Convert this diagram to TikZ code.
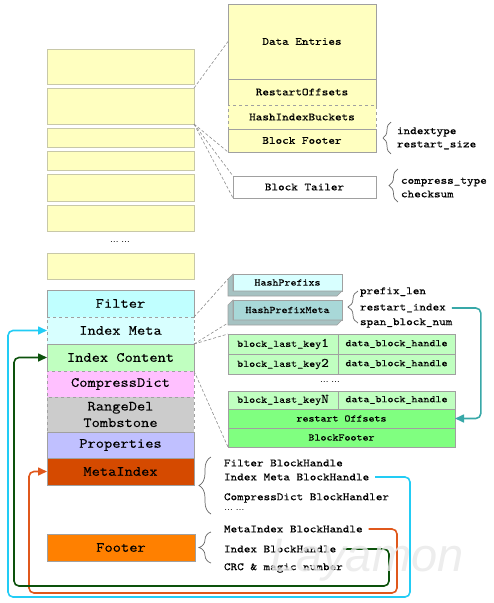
\documentclass[tikz,border=0pt]{standalone}
\usepackage{fontspec}
\setmonofont{Latin Modern Mono}[FakeStretch=1.143,FakeBold=0.35]
\newfontfamily\wmfont{Liberation Sans}
\usetikzlibrary{arrows.meta,decorations.pathreplacing,calc}

\definecolor{yel}{HTML}{FFFFC0}
\definecolor{yedge}{HTML}{C8C8A8}
\definecolor{edge}{HTML}{A0A0A0}
\definecolor{filterc}{HTML}{C0FFFF}
\definecolor{imetac}{HTML}{D8FFFF}
\definecolor{icont}{HTML}{C0FFC0}
\definecolor{cdict}{HTML}{FFC0FF}
\definecolor{rdel}{HTML}{CCCCCC}
\definecolor{props}{HTML}{C0C0FF}
\definecolor{metai}{HTML}{D54A00}
\definecolor{footc}{HTML}{FF8000}
\definecolor{hpfront}{HTML}{D8FFFF}
\definecolor{hpside}{HTML}{A6C2C2}
\definecolor{hpmfront}{HTML}{A8D8D8}
\definecolor{brightg}{HTML}{80FF80}
\definecolor{lcyan}{HTML}{22CCF5}
\definecolor{lorange}{HTML}{E0581C}
\definecolor{lgreen}{HTML}{0C520C}
\definecolor{lteal}{HTML}{38A8A8}

% box placed by its top-left corner: name, style, left, top, width, height, text
\newcommand\blk[7]{\node[#2, minimum width=#5, minimum height=#6, anchor=north west] (#1) at (#3,#4) {#7};}
% larger key index digit
\newcommand\keynum[1]{{\fontsize{13}{13}\selectfont #1}}

\begin{document}
\begin{tikzpicture}[x=1pt,y=-1pt,
  box/.style={draw=edge, line width=0.6pt, inner sep=0pt, outer sep=0pt, align=center,
    font=\ttfamily\fontsize{14}{16.5}\selectfont},
  ybox/.style={box, fill=yel, draw=yedge},
  mid/.style={box, font=\ttfamily\fontsize{11}{13}\selectfont},
  sml/.style={box, font=\ttfamily\fontsize{10}{12}\selectfont},
  note/.style={inner sep=0pt, outer sep=0pt, anchor=west, font=\ttfamily\fontsize{11}{13}\selectfont},
  dots/.style={inner sep=0pt, font=\wmfont\fontsize{9}{11}\selectfont},
  guide/.style={draw=black!45, line width=0.6pt, dash pattern=on 3pt off 2pt},
  brc/.style={draw=black!60, line width=0.7pt, decorate, decoration={brace, amplitude=#1}},
  loop/.style={line width=1.6pt, rounded corners=5pt, -{Triangle[length=9pt,width=8pt]}}
]
\useasboundingbox (0,0) rectangle (494,603);

% ---- data blocks (left column) ----
\blk{yb1}{ybox}{47}{49}{147}{35}{}
\blk{yb2}{ybox}{47}{88}{147}{36}{}
\blk{yb3}{ybox}{47}{128}{147}{19}{}
\blk{yb4}{ybox}{47}{151}{147}{19}{}
\blk{yb5}{ybox}{47}{174}{147}{27}{}
\blk{yb6}{ybox}{47}{205}{147}{26}{}
\node[dots] (ydots) at (120,242) {… …};
\blk{yb7}{ybox}{47}{253}{147}{26}{}

% ---- meta blocks ----
\blk{filter}{box, fill=filterc}{47}{290}{147}{27}{Filter}
\blk{imeta}{box, fill=imetac, dashed}{47}{317}{147}{27}{Index Meta}
\blk{icont}{box, fill=icont}{47}{344}{147}{27}{Index Content}
\blk{cdict}{box, fill=cdict, dashed}{47}{371}{147}{26}{CompressDict}
\blk{rdel}{box, fill=rdel, dashed}{47}{397}{147}{35}{RangeDel\\Tombstone}
\blk{props}{box, fill=props}{47}{432}{147}{26}{Properties}
\blk{mi}{box, fill=metai}{47}{458}{147}{27}{MetaIndex}
\blk{foot}{box, fill=footc}{47}{534}{148}{27}{Footer}

% ---- data block layout ----
\blk{de}{mid, fill=yel}{228}{4}{148}{75}{Data Entries}
\blk{ros}{mid, fill=yel}{228}{79}{148}{26}{RestartOffsets}
\blk{bfoot}{mid, fill=yel}{228}{129}{148}{23}{Block Footer}
\blk{hib}{mid, fill=yel, dashed}{228}{105}{148}{24}{HashIndexBuckets}
\blk{tail}{mid, fill=white}{233}{176}{143}{22}{Block Tailer}

\draw[brc=8pt] (391,154) -- (391,122);
\node[note] (tIT) at (397,132) {indextype};
\node[note] (tRS) at (397,145) {restart\_size};
\draw[brc=9pt] (398,202) -- (398,169);
\node[note] (tCT) at (401,182) {compress\_type};
\node[note] (tCS) at (401,194) {checksum};

\draw[guide] (yb2.north east) -- (de.west);
\draw[guide] (yb2.south east) -- (bfoot.south west);
\draw[guide] (yb2.south east) -- (tail.north west);
\draw[guide] (yb2.south east) -- (tail.south west);

% ---- hash prefix index ----
\blk{hp}{sml, fill=hpfront}{233}{274}{109}{17}{HashPrefixs}
\blk{hpm}{sml, fill=hpmfront}{233}{300}{109}{20}{HashPrefixMeta}
\filldraw[fill=hpside, draw=edge, line width=0.6pt]
  (hp.north west) -- ++(-5,5) -- ($(hp.south west)+(-5,5)$) -- ($(hp.south east)+(-5,5)$)
  -- (hp.south east) -- (hp.south west) -- cycle;
\filldraw[fill=hpside, draw=edge, line width=0.6pt]
  (hpm.north west) -- ++(-5,5) -- ($(hpm.south west)+(-5,5)$) -- ($(hpm.south east)+(-5,5)$)
  -- (hpm.south east) -- (hpm.south west) -- cycle;
\coordinate (hpcorner) at ($(hp.north west)+(-5,5)$);
\coordinate (hpmcorner) at ($(hpm.south west)+(-5,3)$);

\draw[brc=10pt] (358,323) -- (358,291);
\node[note] (tPL) at (360,292) {prefix\_len};
\node[note] (tRI) at (360,308) {restart\_index};
\node[note] (tSB) at (360,323) {span\_block\_num};

% ---- index block ----
\blk{k1}{sml, fill=icont}{228}{334}{110}{20}{block\_last\_key\keynum{1}}
\blk{h1}{sml, fill=icont}{338}{334}{117}{20}{data\_block\_handle}
\blk{k2}{sml, fill=icont}{228}{354}{110}{20}{block\_last\_key\keynum{2}}
\blk{h2}{sml, fill=icont}{338}{354}{117}{20}{data\_block\_handle}
\node[dots] (idots) at (330,382) {… …};
\blk{kn}{sml, fill=icont}{228}{391}{110}{18}{block\_last\_key\keynum{N}}
\blk{hn}{sml, fill=icont}{338}{391}{117}{18}{data\_block\_handle}
\blk{ro}{sml, fill=brightg}{228}{409}{227}{19}{restart Offsets}
\blk{ibf}{sml, fill=brightg}{228}{428}{227}{19}{BlockFooter}

\draw[guide] (filter.south east) -- (hpcorner);
\draw[guide] (imeta.south east) -- (hpmcorner);
\draw[guide] (imeta.south east) -- (k1.north west);
\draw[guide] (icont.south east) -- (ibf.south west);

\draw[lteal, line width=1.6pt, rounded corners=5pt, -{Triangle[length=9pt,width=8pt]}]
  ([xshift=6pt]tRI.east) -- ++(29,0) |- (ro.east);

% ---- meta index and footer contents ----
\draw[brc=12pt] (211,514) -- (211,457);
\node[note] (tFB) at (224,463) {Filter BlockHandle};
\node[note] (tIMB) at (224,477) {Index Meta BlockHandle};
\node[note] (tCDB) at (224,498) {CompressDict BlockHandler};
\node[dots, anchor=west] (mdots) at (224,510) {… …};

\draw[brc=12pt] (211,563) -- (211,532);
\node[note] (tMIB) at (224,529) {MetaIndex BlockHandle};
\node[note] (tIB) at (224,549) {Index BlockHandle};
\node[note] (tCRC) at (224,568) {CRC \& magic number};

% ---- handle references ----
\draw[loop, lorange] ([xshift=6pt]tMIB.east) -| (397,593) -- (29,593) |- (mi.west);
\draw[loop, lgreen] ([xshift=7pt]tIB.east) -| (389,586) -- (14,586) |- (icont.west);
\draw[loop, lcyan] ([xshift=6pt]tIMB.east) -| (410,597) -- (8,597) |- (imeta.west);

\node[anchor=base west, inner sep=0pt, font=\wmfont\itshape\fontsize{47}{47}\selectfont,
  text=black!9, opacity=0.8] (wm) at (270,571) {Layamon};
\end{tikzpicture}
\end{document}
